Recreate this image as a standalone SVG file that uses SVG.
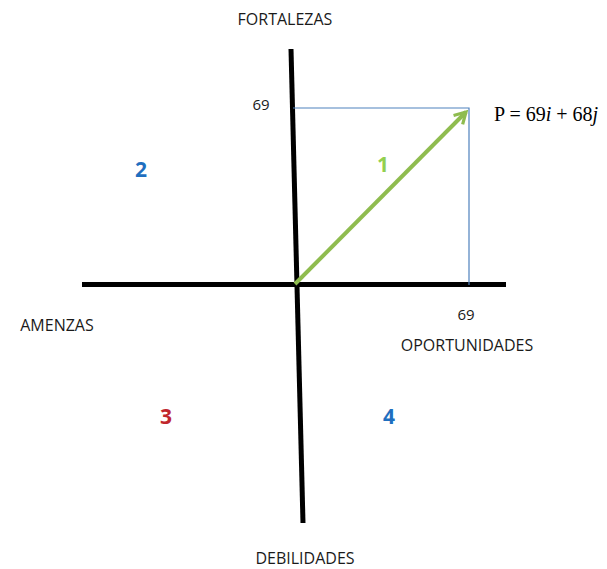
<svg xmlns="http://www.w3.org/2000/svg" width="607" height="569" viewBox="0 0 607 569">
<style>
.lbl{font-family:"Open Sans","Liberation Sans",sans-serif;font-size:16px;fill:#1a1a1a;}
.tick{font-family:"Open Sans","Liberation Sans",sans-serif;font-size:15px;fill:#1a1a1a;}
.num{font-family:"Open Sans","Liberation Sans",sans-serif;font-size:21px;font-weight:bold;}
.axis{stroke:#000;stroke-width:5;stroke-linecap:butt;fill:none;}
.guide{stroke:#4F81BD;stroke-width:1.2;fill:none;}
.eq{font-family:"Liberation Serif",serif;font-size:20px;fill:#000;}
</style>
<defs>
<marker id="ah" viewBox="0 0 10 10" refX="8" refY="5" markerWidth="4" markerHeight="4" orient="auto" markerUnits="strokeWidth">
<path d="M1,1 L8,5 L1,9" fill="none" stroke="#8FBC4F" stroke-width="2" stroke-linejoin="miter"/>
</marker>
</defs>
<g id="connectors">
<line class="axis" x1="291" y1="49" x2="303" y2="523"/>
<line class="axis" x1="82" y1="284.5" x2="506" y2="284.5"/>
<polyline class="guide" points="293,108 469,108 469,285"/>
<line x1="295" y1="284" x2="466" y2="112" stroke="#8FBC4F" stroke-width="4" marker-end="url(#ah)"/>
</g>
<g id="labels">
<text class="lbl" x="285" y="25" text-anchor="middle">FORTALEZAS</text>
<text class="lbl" x="57" y="331" text-anchor="middle">AMENZAS</text>
<text class="lbl" x="467" y="351" text-anchor="middle">OPORTUNIDADES</text>
<text class="lbl" x="305" y="564" text-anchor="middle">DEBILIDADES</text>
<text class="tick" x="261" y="110" text-anchor="middle">69</text>
<text class="tick" x="466" y="320" text-anchor="middle">69</text>
<text class="eq" x="494" y="121" xml:space="preserve">P = 69<tspan font-style="italic">i</tspan> + 68<tspan font-style="italic">j</tspan></text>
</g>
<g id="quadrants">
<text class="num" x="141" y="177" text-anchor="middle" fill="#1F6FBF">2</text>
<text class="num" x="383" y="172" text-anchor="middle" fill="#92D050">1</text>
<text class="num" x="166" y="424" text-anchor="middle" fill="#C0272D">3</text>
<text class="num" x="389" y="424" text-anchor="middle" fill="#1F6FBF">4</text>
</g>
</svg>
